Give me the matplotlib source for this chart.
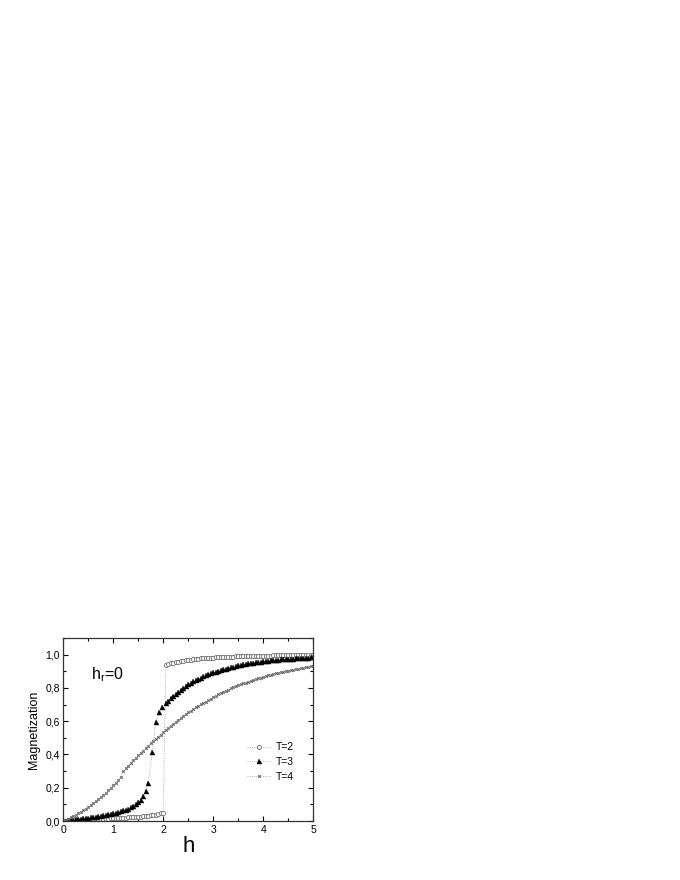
"""Magnetization vs field h for three temperatures (h_r = 0)."""

import matplotlib
matplotlib.use('Agg')
from matplotlib import pyplot as plt
from matplotlib.ticker import MultipleLocator, FuncFormatter

plt.rcParams['font.family'] = ['Liberation Sans', 'DejaVu Sans']
plt.rcParams['mathtext.fontset'] = 'custom'
plt.rcParams['mathtext.rm'] = 'Liberation Sans'

# field grid for T=2 and T=4
h = [0.00, 0.05, 0.10, 0.15, 0.20, 0.25, 0.30, 0.35, 0.40, 0.45,
     0.50, 0.55, 0.60, 0.65, 0.70, 0.75, 0.80, 0.85, 0.90, 0.95,
     1.00, 1.05, 1.10, 1.15, 1.20, 1.25, 1.30, 1.35, 1.40, 1.45,
     1.50, 1.55, 1.60, 1.65, 1.70, 1.75, 1.80, 1.85, 1.90, 1.95,
     2.00, 2.05, 2.10, 2.15, 2.20, 2.25, 2.30, 2.35, 2.40, 2.45,
     2.50, 2.55, 2.60, 2.65, 2.70, 2.75, 2.80, 2.85, 2.90, 2.95,
     3.00, 3.05, 3.10, 3.15, 3.20, 3.25, 3.30, 3.35, 3.40, 3.45,
     3.50, 3.55, 3.60, 3.65, 3.70, 3.75, 3.80, 3.85, 3.90, 3.95,
     4.00, 4.05, 4.10, 4.15, 4.20, 4.25, 4.30, 4.35, 4.40, 4.45,
     4.50, 4.55, 4.60, 4.65, 4.70, 4.75, 4.80, 4.85, 4.90, 4.95,
     5.00]

m_t2 = [0.000, 0.001, 0.002, 0.003, 0.004, 0.005, 0.005, 0.006, 0.007, 0.008,
        0.009, 0.009, 0.010, 0.011, 0.012, 0.012, 0.013, 0.014, 0.015, 0.016,
        0.016, 0.017, 0.018, 0.019, 0.020, 0.021, 0.022, 0.023, 0.024, 0.025,
        0.026, 0.027, 0.029, 0.030, 0.032, 0.034, 0.036, 0.039, 0.042, 0.046,
        0.050, 0.935, 0.942, 0.947, 0.951, 0.955, 0.958, 0.961, 0.964, 0.966,
        0.968, 0.970, 0.972, 0.974, 0.975, 0.977, 0.978, 0.979, 0.980, 0.981,
        0.982, 0.983, 0.984, 0.985, 0.986, 0.986, 0.987, 0.988, 0.988, 0.989,
        0.989, 0.990, 0.990, 0.991, 0.991, 0.992, 0.992, 0.992, 0.993, 0.993,
        0.993, 0.994, 0.994, 0.994, 0.995, 0.995, 0.995, 0.995, 0.996, 0.996,
        0.996, 0.996, 0.996, 0.997, 0.997, 0.997, 0.997, 0.997, 0.997, 0.998,
        0.998]

m_t4 = [0.000, 0.007, 0.014, 0.022, 0.030, 0.038, 0.047, 0.056, 0.065, 0.075,
        0.085, 0.096, 0.107, 0.119, 0.131, 0.144, 0.157, 0.171, 0.186, 0.201,
        0.216, 0.231, 0.246, 0.262, 0.300, 0.317, 0.333, 0.349, 0.365, 0.380,
        0.394, 0.409, 0.423, 0.438, 0.452, 0.466, 0.480, 0.494, 0.507, 0.520,
        0.535, 0.548, 0.561, 0.574, 0.586, 0.598, 0.610, 0.621, 0.632, 0.643,
        0.653, 0.663, 0.673, 0.683, 0.692, 0.701, 0.710, 0.718, 0.726, 0.734,
        0.745, 0.753, 0.761, 0.769, 0.776, 0.783, 0.790, 0.797, 0.803, 0.809,
        0.815, 0.821, 0.827, 0.832, 0.837, 0.842, 0.847, 0.852, 0.857, 0.861,
        0.867, 0.871, 0.875, 0.879, 0.883, 0.887, 0.890, 0.893, 0.896, 0.899,
        0.902, 0.905, 0.908, 0.911, 0.914, 0.917, 0.920, 0.923, 0.926, 0.929,
        0.932]

# T=3 has a few points off the regular grid near the steep rise
h_t3 = [0.00, 0.05, 0.10, 0.15, 0.20, 0.25, 0.30, 0.35, 0.40, 0.45,
        0.50, 0.55, 0.60, 0.65, 0.70, 0.75, 0.80, 0.85, 0.90, 0.95,
        1.00, 1.05, 1.10, 1.15, 1.20, 1.25, 1.30, 1.35, 1.40, 1.45,
        1.50, 1.55, 1.60, 1.65, 1.70, 1.78, 1.85, 1.92, 1.98,
        2.05, 2.10, 2.15, 2.20, 2.25, 2.30, 2.35, 2.40, 2.45,
        2.50, 2.55, 2.60, 2.65, 2.70, 2.75, 2.80, 2.85, 2.90, 2.95,
        3.00, 3.05, 3.10, 3.15, 3.20, 3.25, 3.30, 3.35, 3.40, 3.45,
        3.50, 3.55, 3.60, 3.65, 3.70, 3.75, 3.80, 3.85, 3.90, 3.95,
        4.00, 4.05, 4.10, 4.15, 4.20, 4.25, 4.30, 4.35, 4.40, 4.45,
        4.50, 4.55, 4.60, 4.65, 4.70, 4.75, 4.80, 4.85, 4.90, 4.95,
        5.00]

m_t3 = [0.000, 0.002, 0.004, 0.006, 0.008, 0.010, 0.012, 0.014, 0.016, 0.018,
        0.020, 0.022, 0.025, 0.027, 0.030, 0.032, 0.035, 0.038, 0.041, 0.044,
        0.047, 0.051, 0.055, 0.059, 0.064, 0.069, 0.075, 0.082, 0.090, 0.100,
        0.112, 0.128, 0.150, 0.182, 0.228, 0.415, 0.595, 0.655, 0.685,
        0.708, 0.724, 0.739, 0.753, 0.766, 0.778, 0.790, 0.801, 0.811,
        0.821, 0.830, 0.839, 0.847, 0.855, 0.862, 0.869, 0.875, 0.881, 0.887,
        0.893, 0.898, 0.903, 0.908, 0.912, 0.916, 0.920, 0.924, 0.927, 0.931,
        0.936, 0.939, 0.942, 0.945, 0.947, 0.950, 0.952, 0.954, 0.956, 0.958,
        0.960, 0.962, 0.964, 0.965, 0.967, 0.968, 0.970, 0.971, 0.972, 0.973,
        0.974, 0.975, 0.976, 0.977, 0.978, 0.979, 0.980, 0.981, 0.982, 0.983,
        0.984]

labels = ['T=2', 'T=3', 'T=4']

fig = plt.figure(figsize=(6.8, 8.8), dpi=100)
ax = fig.add_axes([0.0931, 0.0670, 0.3676, 0.2080])

line_kw = dict(linestyle=':', linewidth=0.6, color='#9a9a9a')
ax.plot(h, m_t2, marker='o', markersize=3, markerfacecolor='white',
        markeredgecolor='#707070', markeredgewidth=0.6, label=labels[0], **line_kw)
ax.plot(h_t3, m_t3, marker='^', markersize=3.6, markerfacecolor='black',
        markeredgecolor='black', markeredgewidth=0.3, label=labels[1], **line_kw)
ax.plot(h, m_t4, marker='x', markersize=1.8, markeredgecolor='#6a6a6a',
        markeredgewidth=0.8, label=labels[2], **line_kw)

ax.set_xlim(0, 5)
ax.set_ylim(0, 1.1)
ax.xaxis.set_major_locator(MultipleLocator(1))
ax.xaxis.set_minor_locator(MultipleLocator(0.5))
ax.yaxis.set_major_locator(MultipleLocator(0.2))
ax.yaxis.set_minor_locator(MultipleLocator(0.1))
ax.xaxis.set_major_formatter(FuncFormatter(lambda v, p: f'{v:.0f}'))
ax.yaxis.set_major_formatter(FuncFormatter(lambda v, p: f'{v:.1f}'.replace('.', ',')))
ax.tick_params(which='both', direction='in', top=True, right=True, width=0.8,
               labelsize=7.5, pad=2.5)
ax.tick_params(which='major', length=3.5)
ax.tick_params(which='minor', length=2)
for spine in ax.spines.values():
    spine.set_linewidth(0.9)
    spine.set_color('#333333')

ax.set_xlabel('h', fontsize=16, labelpad=1)
ax.set_ylabel('Magnetization', fontsize=9, labelpad=4)
ax.text(0.55, 0.88, r'h$_\mathregular{r}$=0', fontsize=11.5, va='center')

ax.legend(loc='upper left', bbox_to_anchor=(0.735, 0.43), frameon=False,
          fontsize=7.5, handlelength=2.3, handletextpad=0.5, labelspacing=0.45,
          borderpad=0, borderaxespad=0)

plt.savefig('out.png', dpi=100)
